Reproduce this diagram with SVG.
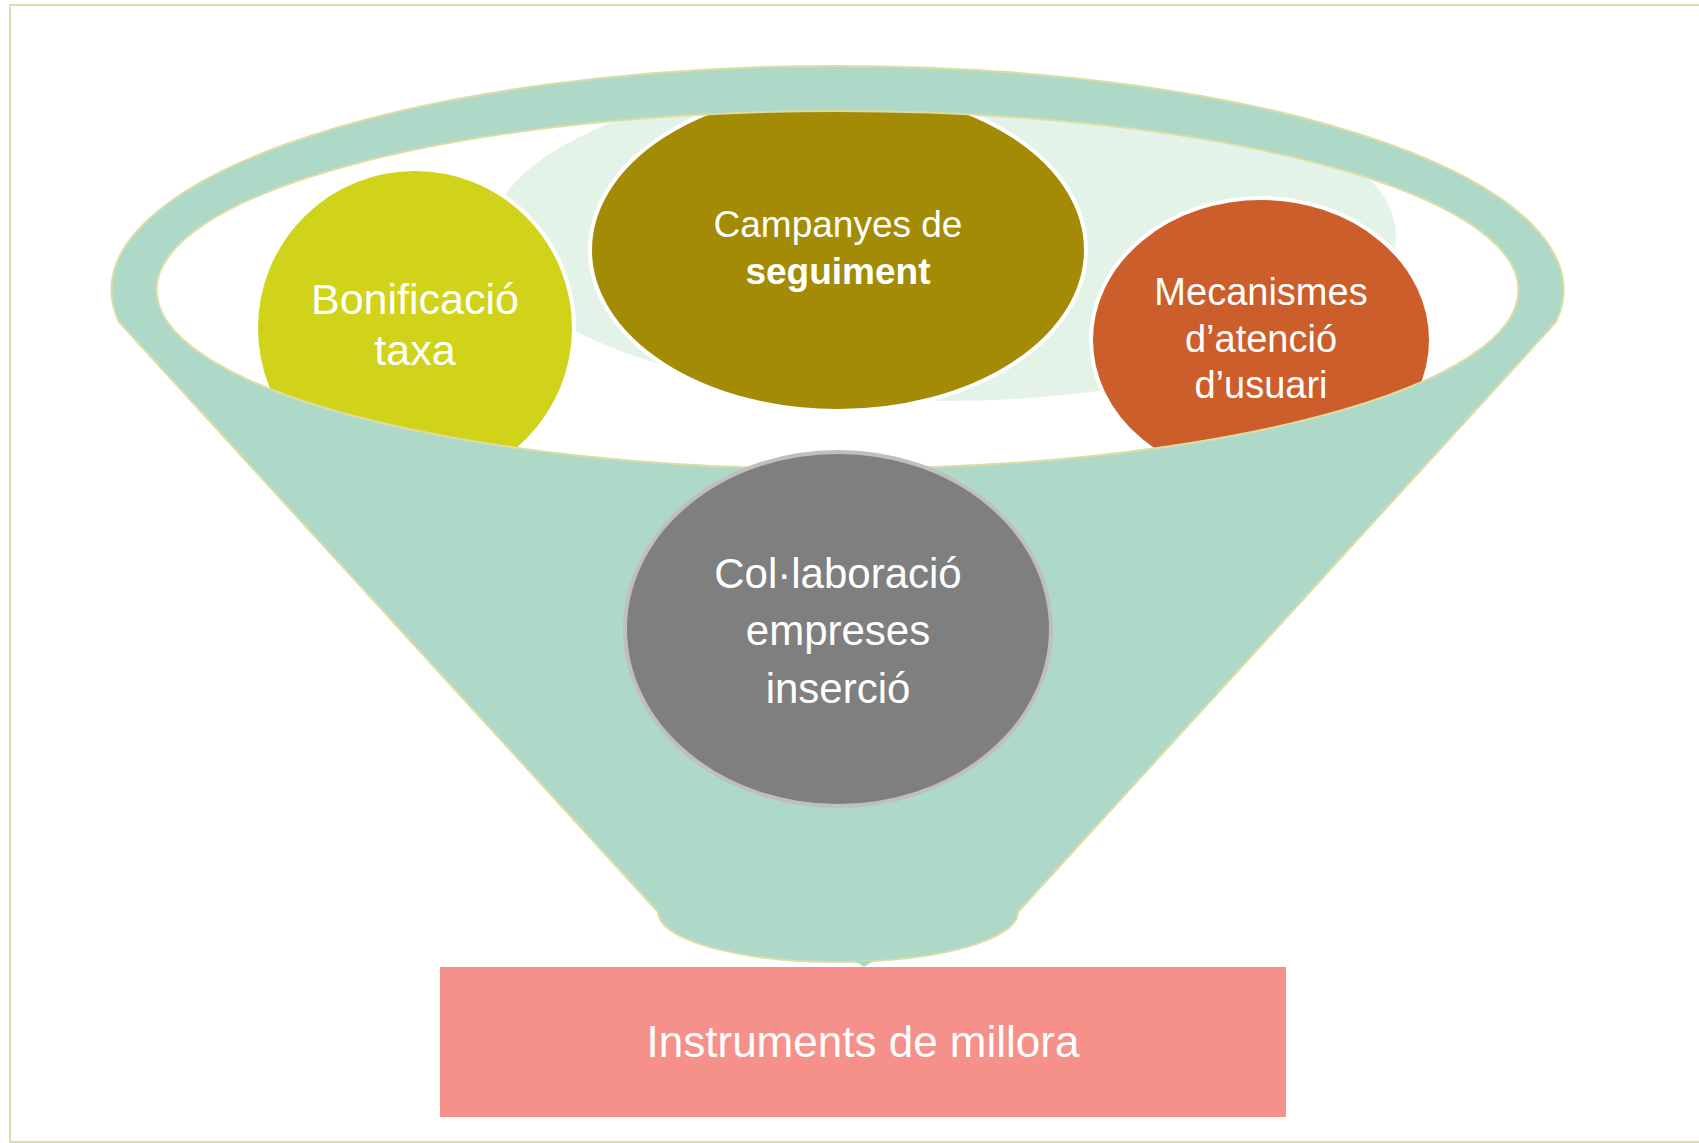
<svg xmlns="http://www.w3.org/2000/svg" width="1699" height="1143" viewBox="0 0 1699 1143">
  <style>
    .lbl { font-family: "Liberation Sans", Arial, sans-serif; fill: #FFFFFF; text-anchor: middle; }
    .rim { fill: none; stroke: #DCDDA6; stroke-width: 2; }
    .node { stroke: #FFFFFF; stroke-width: 4; }
  </style>
  <defs>
    <clipPath id="bowl">
      <ellipse cx="837.5" cy="290" rx="681" ry="179"/>
    </clipPath>
  </defs>
  <rect x="10" y="5" width="1692" height="1137" fill="#FFFFFF" stroke="#D9DDB0" stroke-width="2"/>

  <g id="funnel">
    <path d="M119,322 A726,224 0 1 1 1556,322 L1018,912 A180,50 0 0 1 658,912 Z" fill="#AED8C8" stroke="#DCDDA6" stroke-width="2"/>
    <path d="M855,961 L864,967 L873,961 Z" fill="#A8DDBA"/>
    <ellipse cx="837.5" cy="290" rx="681" ry="179" fill="#FFFFFF"/>
  </g>

  <g id="bowl-content" clip-path="url(#bowl)">
    <ellipse id="backdrop" cx="944" cy="235" rx="452" ry="166" fill="#E3F3E7"/>
    <g id="node-bonificacio">
      <circle class="node" cx="415" cy="328" r="159" fill="#D0D31A"/>
      <text class="lbl" font-size="43" x="415" y="314">Bonificació</text>
      <text class="lbl" font-size="43" x="415" y="365">taxa</text>
    </g>
    <g id="node-campanyes">
      <ellipse class="node" cx="838" cy="250" rx="248" ry="161" fill="#A38B05"/>
      <text class="lbl" font-size="37" x="838" y="237">Campanyes de</text>
      <text class="lbl" font-size="37" font-weight="bold" x="838" y="284">seguiment</text>
    </g>
    <g id="node-mecanismes">
      <ellipse class="node" cx="1261" cy="340" rx="170" ry="142" fill="#CC5E2C"/>
      <text class="lbl" font-size="38" x="1261" y="305">Mecanismes</text>
      <text class="lbl" font-size="38" x="1261" y="352">d’atenció</text>
      <text class="lbl" font-size="38" x="1261" y="398">d’usuari</text>
    </g>
  </g>
  <ellipse class="rim" cx="837.5" cy="290" rx="681" ry="179"/>

  <g id="node-collaboracio">
    <ellipse cx="838" cy="629" rx="213" ry="177" fill="#7F7F7F" stroke="#BFBFBF" stroke-width="4"/>
    <text class="lbl" font-size="42" x="838" y="588">Col·laboració</text>
    <text class="lbl" font-size="42" x="838" y="645">empreses</text>
    <text class="lbl" font-size="42" x="838" y="703">inserció</text>
  </g>

  <g id="node-instruments">
    <rect x="440" y="967" width="846" height="150" fill="#F5918A"/>
    <text class="lbl" font-size="44" x="863" y="1057">Instruments de millora</text>
  </g>

  <g id="connectors"></g>
</svg>
